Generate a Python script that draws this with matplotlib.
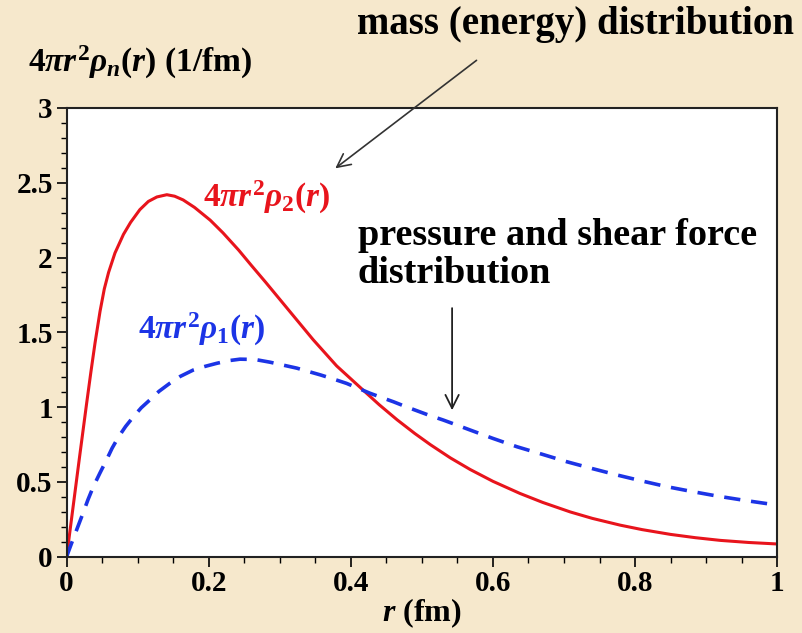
import matplotlib
matplotlib.use("Agg")
import matplotlib.pyplot as plt

# values
r_rho2 = [0, 0.006, 0.012, 0.018, 0.028, 0.034, 0.040, 0.047, 0.053, 0.059, 0.068, 0.080,
          0.090, 0.103, 0.115, 0.127, 0.141, 0.152, 0.164, 0.180, 0.202, 0.220, 0.242,
          0.260, 0.280, 0.300, 0.320, 0.347, 0.380, 0.418, 0.440, 0.465, 0.490, 0.512,
          0.540, 0.568, 0.600, 0.638, 0.670, 0.709, 0.740, 0.779, 0.810, 0.850, 0.885,
          0.920, 0.960, 1.0]
rho2 = [0, 0.22, 0.44, 0.66, 1.02, 1.23, 1.43, 1.64, 1.79, 1.90, 2.03, 2.155,
        2.235, 2.32, 2.375, 2.405, 2.42, 2.41, 2.385, 2.335, 2.25, 2.165, 2.05,
        1.947, 1.835, 1.72, 1.605, 1.45, 1.275, 1.11, 1.015, 0.915, 0.823, 0.748,
        0.66, 0.582, 0.503, 0.422, 0.362, 0.298, 0.255, 0.210, 0.180, 0.148, 0.126,
        0.108, 0.094, 0.084]

r_rho1 = [0, 0.007, 0.015, 0.023, 0.030, 0.0375, 0.047, 0.056, 0.064, 0.073, 0.083, 0.094,
          0.105, 0.117, 0.130, 0.145, 0.160, 0.178, 0.195, 0.211, 0.228, 0.244, 0.265,
          0.286, 0.305, 0.324, 0.340, 0.357, 0.375, 0.394, 0.410, 0.427, 0.443, 0.460,
          0.476, 0.493, 0.510, 0.530, 0.550, 0.568, 0.600, 0.634, 0.670, 0.704, 0.740,
          0.775, 0.810, 0.845, 0.880, 0.915, 0.955, 1.0]
rho1 = [0, 0.09, 0.19, 0.29, 0.38, 0.467, 0.56, 0.645, 0.725, 0.80, 0.87, 0.935,
        0.995, 1.047, 1.105, 1.158, 1.205, 1.247, 1.272, 1.292, 1.31, 1.32, 1.318,
        1.30, 1.28, 1.26, 1.238, 1.215, 1.188, 1.158, 1.126, 1.092, 1.064, 1.035,
        1.005, 0.975, 0.945, 0.913, 0.878, 0.846, 0.79, 0.734, 0.683, 0.634, 0.588,
        0.545, 0.505, 0.467, 0.435, 0.405, 0.375, 0.344]

x_ticks = [0, 0.2, 0.4, 0.6, 0.8, 1]
x_tick_labels = ["0", "0.2", "0.4", "0.6", "0.8", "1"]
y_ticks = [0, 0.5, 1, 1.5, 2, 2.5, 3]
y_tick_labels = ["0", "0.5", "1", "1.5", "2", "2.5", "3"]

plt.rcParams['font.family'] = 'Liberation Serif'
plt.rcParams['font.weight'] = 'bold'
plt.rcParams['axes.labelweight'] = 'bold'
plt.rcParams['mathtext.fontset'] = 'custom'
plt.rcParams['mathtext.rm'] = 'Liberation Serif:bold'
plt.rcParams['mathtext.it'] = 'Liberation Serif:italic:bold'
plt.rcParams['mathtext.bf'] = 'Liberation Serif:bold'

bg = '#f6e8cc'
red = '#e8141c'
blue = '#1c34e6'

fig = plt.figure(figsize=(8.03, 6.33), dpi=100, facecolor=bg)
ax = fig.add_axes([0.083, 0.1208, 0.8848, 0.7086])
ax.set_facecolor('white')

ax.plot(r_rho2, rho2, color=red, lw=2.2, solid_joinstyle='round')
ax.plot(r_rho1, rho1, color=blue, lw=2.6, dashes=(4.5, 3.0))

ax.set_xlim(0, 1)
ax.set_ylim(0, 3)
ax.set_xticks(x_ticks)
ax.set_xticklabels(x_tick_labels)
ax.set_yticks(y_ticks)
ax.set_yticklabels(y_tick_labels)
ax.set_xticks([i * 0.05 for i in range(21)], minor=True)
ax.set_yticks([i * 0.1 for i in range(31)], minor=True)
ax.tick_params(which='major', direction='out', length=7, width=1.2, labelsize=21, pad=3)
ax.tick_params(which='minor', direction='out', length=4, width=1.0)
for s in ax.spines.values():
    s.set_linewidth(1.5)
    s.set_color('#222222')

ax.set_xlabel(r'$r$ (fm)', fontsize=23, labelpad=-1)

fig.text(0.035, 0.902, r'$4\pi r^2\rho_n(r)$ (1/fm)', fontsize=24, va='center', ha='left')

ax.text(0.192, 2.40, r'$4\pi r^2\rho_2(r)$', color=red, fontsize=24, ha='left', va='center')
ax.text(0.10, 1.52, r'$4\pi r^2\rho_1(r)$', color=blue, fontsize=24, ha='left', va='center')

ax.text(0.41, 2.02, 'pressure and shear force\ndistribution', fontsize=27.5,
        ha='left', va='center', linespacing=1.12)
ax.text(0.716, 3.56, 'mass (energy) distribution', fontsize=28, ha='center', va='center',
        clip_on=False)

ax.annotate('', xy=(0.375, 2.585), xytext=(0.580, 3.33),
            arrowprops=dict(arrowstyle='->', color='#333333', lw=1.2, mutation_scale=24),
            annotation_clip=False)
ax.annotate('', xy=(0.5425, 0.96), xytext=(0.5425, 1.68),
            arrowprops=dict(arrowstyle='->', color='#222222', lw=1.3, mutation_scale=24))

fig.savefig('out.png', dpi=100, facecolor=bg)
